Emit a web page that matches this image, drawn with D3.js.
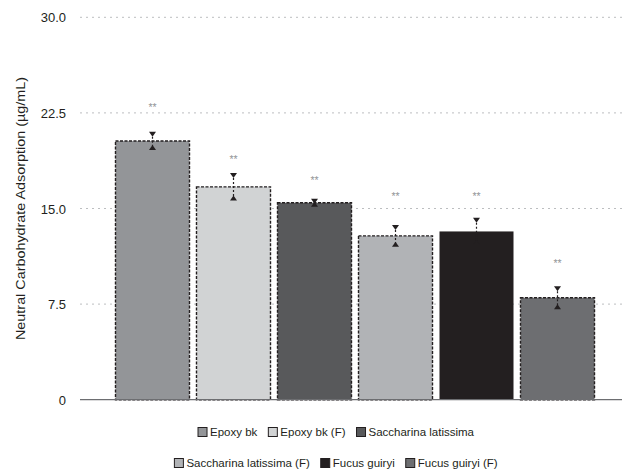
<!DOCTYPE html>
<html><head><meta charset="utf-8">
<script src="https://cdn.jsdelivr.net/npm/d3@7"></script>
<style>body{margin:0;background:#fff}svg{display:block;font-family:"Liberation Sans",Arial,sans-serif}</style>
</head><body><svg id="c" width="622" height="473"></svg>
<script>
const categories = ["Epoxy bk","Epoxy bk (F)","Saccharina latissima","Saccharina latissima (F)","Fucus guiryi","Fucus guiryi (F)"];
const values = [20.3, 16.7, 15.45, 12.85, 13.2, 8.0];
const errors = [0.64, 1.0, 0.24, 0.78, 0.99, 0.82];
const sigLabels = ["**","**","**","**","**","**"];
const sigY = [23.0, 18.9, 17.2, 16.0, 16.0, 10.7];
const yTicks = [0, 7.5, 15, 22.5, 30];
const yTickLabels = ["0","7.5","15.0","22.5","30.0"];
const colors = ["#939598","#d1d3d4","#58595b","#b1b3b6","#231f20","#6d6e71"];
const dashedBorder = [true,true,true,true,false,true];
const legendRows = [[0,1,2],[3,4,5]];

const svg = d3.select("#c");
const y = d3.scaleLinear().domain([0,30]).range([399.7,17.3]);
const x = d3.scaleBand().domain(categories).range([115,595]).paddingInner(6/81).paddingOuter(0);

// grid
svg.append("g").selectAll("line").data(yTicks.filter(t=>t>0)).join("line")
  .attr("x1",80).attr("x2",622).attr("y1",d=>y(d)).attr("y2",d=>y(d))
  .attr("stroke","#bcbec0").attr("stroke-width",1).attr("stroke-dasharray","2,4");

// y axis labels via axis
const yAxis = d3.axisLeft(y).tickValues(yTicks).tickFormat((d,i)=>yTickLabels[i]).tickSize(0).tickPadding(0);
const ga = svg.append("g").attr("transform","translate(66,0)").call(yAxis);
ga.select(".domain").remove();
ga.selectAll("text").attr("font-size",13).attr("fill","#231f20").attr("font-family","Liberation Sans, Arial, sans-serif").attr("dy","0.35em");

// title
svg.append("text").attr("transform","translate(25,208.5) rotate(-90)").attr("text-anchor","middle")
  .attr("font-size",12.5).attr("textLength",263).attr("lengthAdjust","spacingAndGlyphs")
  .attr("fill","#231f20").text("Neutral Carbohydrate Adsorption (µg/mL)");

// bars
svg.append("g").selectAll("rect").data(categories).join("rect")
  .attr("x",d=>x(d)+0.5).attr("y",(d,i)=>y(values[i]))
  .attr("width",x.bandwidth()-1).attr("height",(d,i)=>y(0)-y(values[i]))
  .attr("fill",(d,i)=>colors[i])
  .attr("stroke",(d,i)=>dashedBorder[i]?"#231f20":"none")
  .attr("stroke-width",1.4).attr("stroke-dasharray","3,1.5");

// baseline
svg.append("line").attr("x1",80).attr("x2",622).attr("y1",y(0)).attr("y2",y(0))
  .attr("stroke","#6d6e71").attr("stroke-width",1.2);

// error bars
const eg = svg.append("g");
categories.forEach((c,i)=>{
  const cx = x(c)+x.bandwidth()/2;
  const top = y(values[i]+errors[i]), bot = y(values[i]-errors[i]);
  eg.append("line").attr("x1",cx).attr("x2",cx).attr("y1",top).attr("y2",bot)
    .attr("stroke","#231f20").attr("stroke-width",1.2).attr("stroke-dasharray","2,2");
  eg.append("path").attr("d",`M${cx-3.5},${top-1}L${cx+3.5},${top-1}L${cx},${top+4}Z`).attr("fill","#231f20");
  eg.append("path").attr("d",`M${cx-3.5},${bot+1}L${cx+3.5},${bot+1}L${cx},${bot-4}Z`).attr("fill","#231f20");
  svg.append("text").attr("x",cx).attr("y",y(sigY[i])+4).attr("text-anchor","middle")
    .attr("font-size",10.5).attr("fill","#939598").text(sigLabels[i]);
});

// legend
const rowY = [432, 463];
legendRows.forEach((row,r)=>{
  const g = svg.append("g");
  let cx = 0;
  row.forEach((i,k)=>{
    const ig = g.append("g").attr("transform",`translate(${cx},0)`);
    ig.append("rect").attr("x",0).attr("y",-4.5).attr("width",9).attr("height",9)
      .attr("fill",colors[i]).attr("stroke","#231f20").attr("stroke-width",1);
    const t = ig.append("text").attr("x",12).attr("y",4).attr("font-size",11.5).attr("fill","#231f20").text(categories[i]);
    cx += 12 + t.node().getComputedTextLength() + 11;
  });
  const w = cx - 11;
  g.attr("transform",`translate(${336 - w/2},${rowY[r]})`);
});
</script></body></html>
